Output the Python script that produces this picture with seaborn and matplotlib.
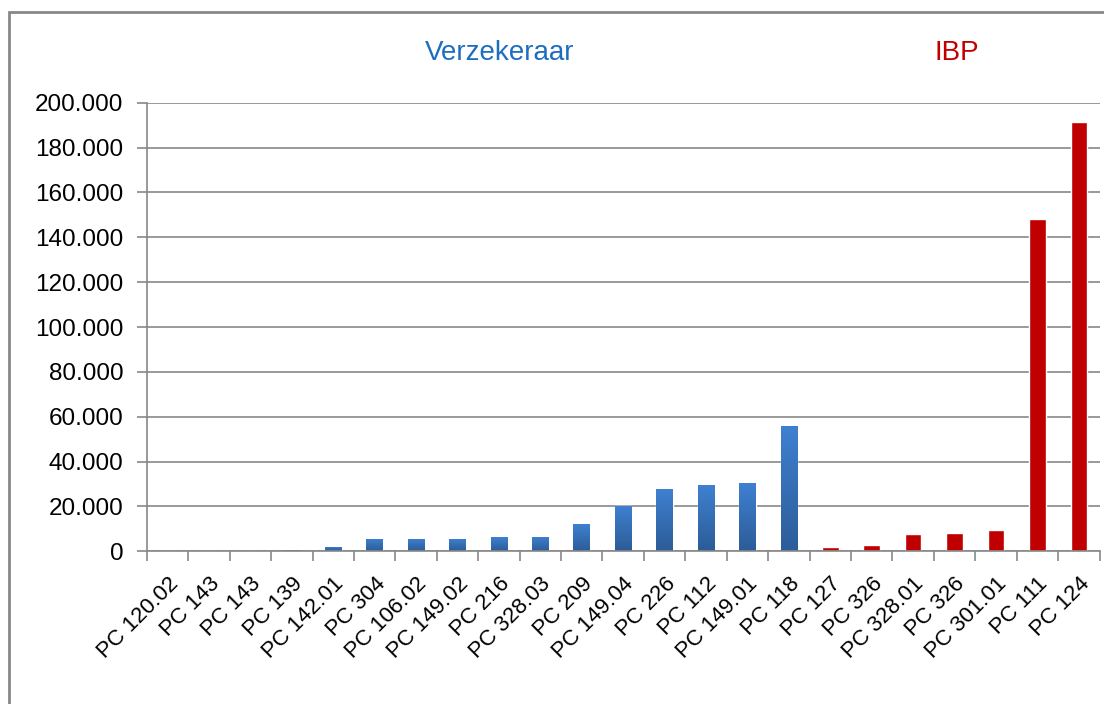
import numpy as np
import pandas as pd
import matplotlib
matplotlib.use("Agg")
import matplotlib.pyplot as plt
import seaborn as sns
from matplotlib.patches import Rectangle
from matplotlib.ticker import FuncFormatter

# ---- data ----
CATEGORIES = ["PC 120.02", "PC 143", "PC 143", "PC 139", "PC 142.01", "PC 304",
              "PC 106.02", "PC 149.02", "PC 216", "PC 328.03", "PC 209", "PC 149.04",
              "PC 226", "PC 112", "PC 149.01", "PC 118",
              "PC 127", "PC 326", "PC 328.01", "PC 326", "PC 301.01", "PC 111", "PC 124"]
VALUES = [100, 200, 300, 500, 1800, 5400, 5400, 5400, 6200, 6400, 12000, 20200,
          27700, 29500, 30400, 55800,
          1900, 3000, 7600, 8000, 9400, 148200, 191500]
GROUPS = ["Verzekeraar"] * 16 + ["IBP"] * 7
Y_TICKS = list(range(0, 200001, 20000))

BLUE_TOP, BLUE_BOTTOM = "#3F81D1", "#2C5C98"
RED = "#C00000"

sns.set_theme(style="white")
plt.rcParams["font.family"] = ["Liberation Sans", "DejaVu Sans"]

df = pd.DataFrame({"pos": [str(i) for i in range(len(CATEGORIES))],
                   "value": VALUES, "group": GROUPS})

fig = plt.figure(figsize=(11.04, 7.04), dpi=100)
ax = fig.add_axes([0.133, 0.217, 0.863, 0.637])

sns.barplot(data=df, x="pos", y="value", hue="group",
            palette={"Verzekeraar": BLUE_TOP, "IBP": RED}, saturation=1,
            dodge=False, width=0.4, legend=False, ax=ax)

# vertical gradient on the blue bars
grad = np.linspace(0, 1, 256).reshape(-1, 1)
cmap = matplotlib.colors.LinearSegmentedColormap.from_list("b", [BLUE_BOTTOM, BLUE_TOP])
for patch in ax.patches:
    if patch.get_height() <= 0:
        continue
    fc = matplotlib.colors.to_hex(patch.get_facecolor())
    if fc.lower() == BLUE_TOP.lower():
        x0, y0 = patch.get_x(), patch.get_y()
        w, h = patch.get_width(), patch.get_height()
        im = ax.imshow(grad, cmap=cmap, origin="lower", aspect="auto",
                       extent=(x0, x0 + w, y0, y0 + h), zorder=patch.get_zorder() + 0.1)
        im.set_clip_path(patch)

ax.set_xlim(-0.5, len(CATEGORIES) - 0.5)
ax.set_ylim(0, 200000)
ax.set_yticks(Y_TICKS)
ax.yaxis.set_major_formatter(FuncFormatter(lambda v, p: f"{int(v):,}".replace(",", ".")))
ax.set_xticks(range(len(CATEGORIES)))
ax.set_xticklabels(CATEGORIES, rotation=45, ha="right", rotation_mode="anchor", fontsize=16)
ax.tick_params(axis="y", labelsize=17.5, length=7, color="#888888", width=1.2, left=True,
               pad=10, labelcolor="black")
ax.tick_params(axis="x", length=0, pad=16, labelcolor="black")
ax.set_xticks(np.arange(-0.5, len(CATEGORIES), 1.0), minor=True)
ax.tick_params(axis="x", which="minor", bottom=True, length=7, color="#888888", width=1.2)

ax.yaxis.grid(True, color="#888888", linewidth=1.2)
ax.set_axisbelow(True)
ax.set_xlabel("")
ax.set_ylabel("")
for s in ["top", "right"]:
    ax.spines[s].set_visible(False)
for s in ["left", "bottom"]:
    ax.spines[s].set_color("#888888")
    ax.spines[s].set_linewidth(1.2)

fig.text(0.453, 0.925, "Verzekeraar", color="#1E6EC0", fontsize=20, ha="center", va="center")
fig.text(0.867, 0.925, "IBP", color=RED, fontsize=20, ha="center", va="center")

# outer chart frame
fig.patches.append(Rectangle((0.008, -0.1), 1.1, 1.083, transform=fig.transFigure,
                             fill=False, edgecolor="#888888", linewidth=2))

fig.savefig("out.png", dpi=100)
